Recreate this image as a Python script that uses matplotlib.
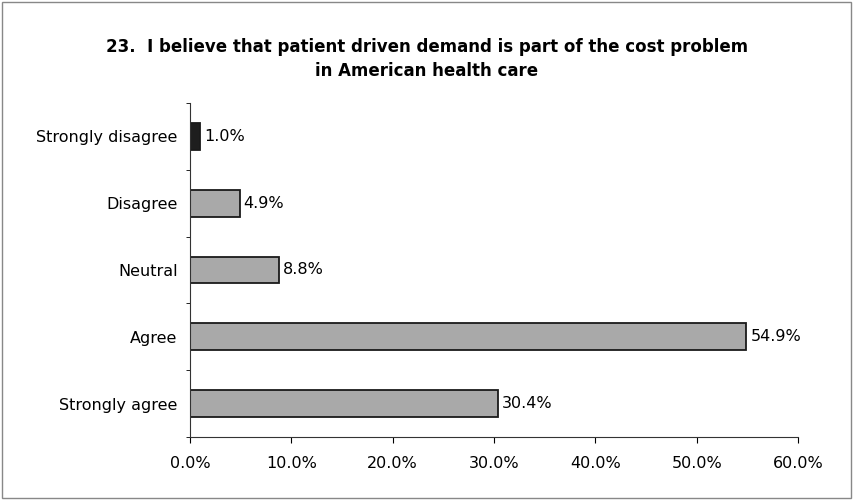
import matplotlib.pyplot as plt
from matplotlib.patches import Rectangle

# survey answers, top to bottom
categories = ['Strongly disagree', 'Disagree', 'Neutral', 'Agree', 'Strongly agree']
percents = [1.0, 4.9, 8.8, 54.9, 30.4]
bar_colors = ['#1e1e1e', '#a9a9a9', '#a9a9a9', '#a9a9a9', '#a9a9a9']
xtick_values = [0, 10, 20, 30, 40, 50, 60]

plt.rcParams['font.family'] = ['DejaVu Sans']

fig = plt.figure(figsize=(8.54, 5.0), dpi=100)
ax = fig.add_axes([0.2225, 0.126, 0.712, 0.668])

ypos = list(range(len(categories)))
ax.barh(ypos, percents, height=0.4, color=bar_colors, edgecolor='#1a1a1a', linewidth=1.3)

for y, v in zip(ypos, percents):
    ax.text(v + 0.4, y, f'{v:.1f}%', va='center', ha='left', fontsize=11.5)

ax.set_xlim(0, 60)
ax.set_ylim(len(categories) - 0.5, -0.5)
ax.set_xticks(xtick_values)
ax.set_xticklabels([f'{t:.1f}%' for t in xtick_values], fontsize=11.5)
ax.set_yticks(ypos)
ax.set_yticklabels(categories, fontsize=11.5)
# small ticks between the categories, like the spreadsheet default
ax.set_yticks([i - 0.5 for i in range(len(categories) + 1)], minor=True)
ax.tick_params(axis='y', which='major', length=0, pad=9)
ax.tick_params(axis='y', which='minor', length=3, direction='out')
ax.tick_params(axis='x', direction='out', length=4, pad=10)

for s in ['top', 'right']:
    ax.spines[s].set_visible(False)
ax.spines['left'].set_color('#333333')
ax.spines['bottom'].set_color('#333333')

fig.suptitle('23.  I believe that patient driven demand is part of the cost problem\nin American health care',
             fontsize=12, fontweight='bold', y=0.925, linespacing=1.45)

# thin frame round the whole chart
fig.patches.append(Rectangle((0.002, 0.004), 0.995, 0.992, transform=fig.transFigure,
                             fill=False, edgecolor='#888888', linewidth=1))

fig.savefig('out.png', dpi=100)
